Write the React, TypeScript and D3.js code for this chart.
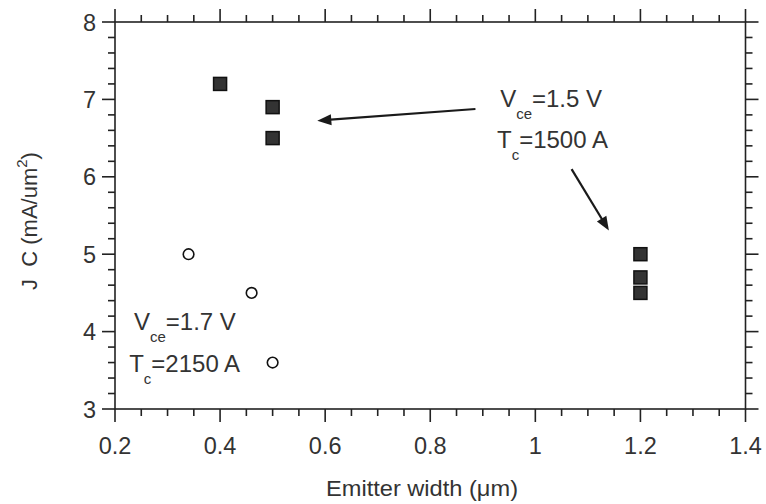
import React from "react";
import * as d3 from "d3";

const squareX = [0.4, 0.5, 0.5, 1.2, 1.2, 1.2];
const squareY = [7.2, 6.9, 6.5, 5.0, 4.7, 4.5];
const circleX = [0.34, 0.46, 0.5];
const circleY = [5.0, 4.5, 3.6];
const xTicks = [0.2, 0.4, 0.6, 0.8, 1, 1.2, 1.4];
const yTicks = [3, 4, 5, 6, 7, 8];
const xLabel = "Emitter width (\u03bcm)";
const yLabel = "J\u00a0\u00a0C (mA/um";

// annotations in data units
const arrows = [
  { x1: 0.886, y1: 6.876, x2: 0.585, y2: 6.725 },
  { x1: 1.069, y1: 6.1, x2: 1.14, y2: 5.306 },
];
const notes = [
  { x: 0.236, y: 4.02, main: "V", sub: "ce", rest: "=1.7 V" },
  { x: 0.227, y: 3.48, main: "T", sub: "c", rest: "=2150 A" },
  { x: 0.933, y: 6.906, main: "V", sub: "ce", rest: "=1.5 V" },
  { x: 0.927, y: 6.37, main: "T", sub: "c", rest: "=1500 A" },
];

const W = 766, H = 504;
const L = 115, R = 745.5, T = 22, B = 409;
const FONT = "'Liberation Sans', Arial, Helvetica, sans-serif";
const INK = "#222";

export default function App() {
  const x = d3.scaleLinear().domain([0.2, 1.4]).range([L, R]);
  const y = d3.scaleLinear().domain([3, 8]).range([B, T]);
  const xMinor = d3.range(0.2, 1.4001, 0.05).map((v) => +v.toFixed(3));
  const yMinor = d3.range(3, 8.0001, 0.2).map((v) => +v.toFixed(3));
  const isMajorX = (v: number) => xTicks.some((t) => Math.abs(t - v) < 1e-6);
  const isMajorY = (v: number) => yTicks.some((t) => Math.abs(t - v) < 1e-6);
  const big = 13, small = 7;
  const sq = 13;

  const arrowHead = (x1: number, y1: number, x2: number, y2: number) => {
    const ang = Math.atan2(y2 - y1, x2 - x1);
    const len = 14, wid = 5.5;
    const bx = x2 - len * Math.cos(ang), by = y2 - len * Math.sin(ang);
    const px = -Math.sin(ang) * wid, py = Math.cos(ang) * wid;
    return `${x2},${y2} ${bx + px},${by + py} ${bx - px},${by - py}`;
  };

  return (
    <svg width={W} height={H} style={{ position: "absolute", left: 0, top: 0, background: "#fff" }} fontFamily={FONT}>
      <rect x={0} y={0} width={W} height={H} fill="#fff" />
      <rect x={L} y={T} width={R - L} height={B - T} fill="none" stroke={INK} strokeWidth={1.6} />
      {xMinor.map((v, i) => {
        const len = isMajorX(v) ? big : small;
        return (
          <g key={"xt" + i} stroke={INK} strokeWidth={1.6}>
            <line x1={x(v)} x2={x(v)} y1={B} y2={B + len} />
            <line x1={x(v)} x2={x(v)} y1={T} y2={T - len} />
          </g>
        );
      })}
      {yMinor.map((v, i) => {
        const len = isMajorY(v) ? big : small;
        return (
          <g key={"yt" + i} stroke={INK} strokeWidth={1.6}>
            <line x1={L} x2={L - len} y1={y(v)} y2={y(v)} />
            <line x1={R} x2={R + len} y1={y(v)} y2={y(v)} />
          </g>
        );
      })}
      {xTicks.map((v) => (
        <text key={"xl" + v} x={x(v)} y={453.5} textAnchor="middle" fontSize={23.5} fill="#333">
          {d3.format("~g")(v)}
        </text>
      ))}
      {yTicks.map((v) => (
        <text key={"yl" + v} x={96} y={y(v) + 8.5} textAnchor="end" fontSize={23.5} fill="#333">
          {v}
        </text>
      ))}
      <text x={(326 + 518) / 2} y={495.5} textAnchor="middle" fontSize={22} fill="#333" textLength={192} lengthAdjust="spacingAndGlyphs">
        {xLabel}
      </text>
      <g transform={`translate(37,${221}) rotate(-90)`}>
        <text x={0} y={0} textAnchor="middle" fontSize={22} fill="#333">
          {yLabel}
          <tspan fontSize={15} dy={-10}>2</tspan>
          <tspan dy={10}>)</tspan>
        </text>
      </g>
      {squareX.map((v, i) => (
        <rect key={"s" + i} x={x(v) - sq / 2} y={y(squareY[i]) - sq / 2} width={sq} height={sq} fill="#333" stroke="#111" strokeWidth={1.5} />
      ))}
      {circleX.map((v, i) => (
        <circle key={"c" + i} cx={x(v)} cy={y(circleY[i])} r={5.3} fill="#fff" stroke="#111" strokeWidth={1.6} />
      ))}
      {arrows.map((a, i) => {
        const x1 = x(a.x1), y1 = y(a.y1), x2 = x(a.x2), y2 = y(a.y2);
        const ang = Math.atan2(y2 - y1, x2 - x1);
        return (
          <g key={"a" + i}>
            <line x1={x1} y1={y1} x2={x2 - 10 * Math.cos(ang)} y2={y2 - 10 * Math.sin(ang)} stroke="#1a1a1a" strokeWidth={2.2} />
            <polygon points={arrowHead(x1, y1, x2, y2)} fill="#1a1a1a" />
          </g>
        );
      })}
      {notes.map((n, i) => (
        <text key={"n" + i} x={x(n.x)} y={y(n.y)} fontSize={24} fill="#333">
          {n.main}
          <tspan fontSize={15} dy={12}>{n.sub}</tspan>
          <tspan dy={-12}>{n.rest}</tspan>
        </text>
      ))}
    </svg>
  );
}
